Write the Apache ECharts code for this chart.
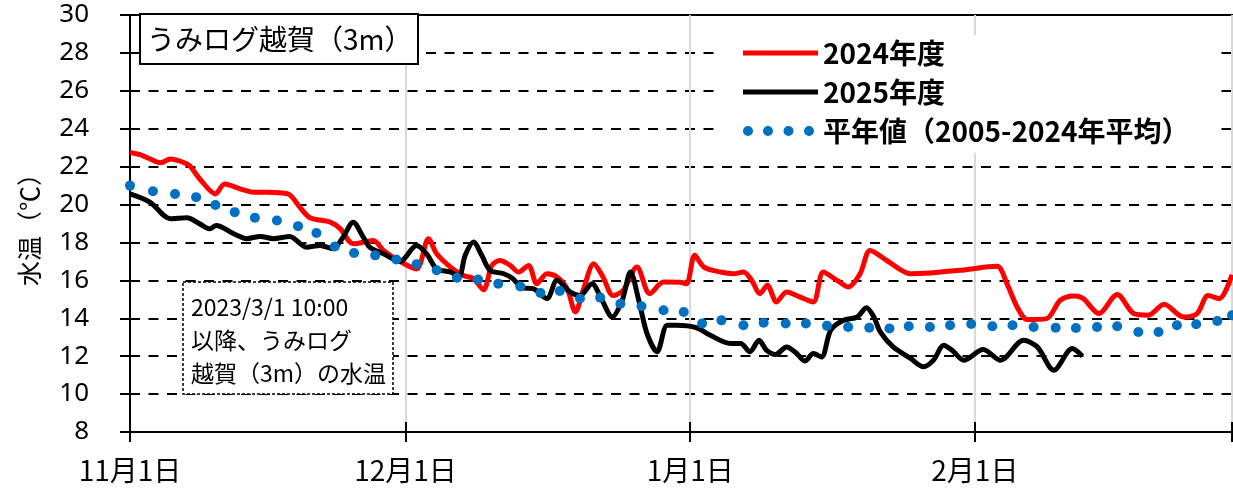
<!DOCTYPE html>
<html>
<head>
<meta charset="utf-8">
<title>うみログ越賀（3m）</title>
<script src="https://cdn.jsdelivr.net/npm/echarts@6/dist/echarts.min.js"></script>
<style>
    html, body {margin: 0; padding: 0; background: #fff;}
    #main {width: 1233px; height: 499px;}
</style>
</head>
<body>
<div id="main"></div>
<script>
// x = days since Nov 1 (Dec 1 = 30, Jan 1 = 61, Feb 1 = 92, Mar 1 = 120)
var monthTickDays = [0, 30, 61, 92, 120];
var monthLabels = ['11月1日', '12月1日', '1月1日', '2月1日'];

var days2024 = [0, 1.1, 2.2, 3.3, 4.4, 5.8, 6.5, 7.6, 9.3, 10.3, 12, 13.4, 14.9, 17.2, 18.5, 19.6, 21.8, 22.9, 24.3, 26.5,
    27.6, 29.4, 31.2, 32.5, 33.4, 34.9, 36.3, 37.4, 38.5, 39.4, 40.3, 41.4, 42.3, 43.4, 44.3, 45.4, 46.5, 47.6, 48.5, 49.4,
    50.5, 51.5, 52.6, 53.7, 55.2, 56.6, 58.1, 59.9, 60.6, 61.5, 62.5, 64.3, 65.7, 66.8, 67.7, 68.6, 69.4, 70.4, 71.5, 73,
    74.4, 75.5, 77, 78.2, 79.5, 80.6, 82.4, 85, 87.1, 90.4, 94.4, 95.5, 96.6, 97.7, 99.8, 101.3, 102.8, 103.8, 105.5, 107.5,
    109.3, 110.9, 112.6, 114.7, 116.2, 117.4, 118.6, 120];
var temps2024 = [22.75, 22.63, 22.4, 22.2, 22.4, 22.23, 22.05, 21.35, 20.56, 21.09, 20.83, 20.65, 20.65, 20.56, 19.86, 19.3, 19.07, 18.72, 17.93, 18.1,
    17.58, 17.0, 16.6, 18.2, 17.4, 16.7, 16.26, 16.09, 15.5, 16.79, 17.05, 16.79, 16.44, 16.79, 15.82, 16.35, 16.18, 15.56, 14.33, 15.56,
    16.88, 16.18, 15.2, 15.47, 16.7, 15.3, 15.91, 15.9, 15.82, 17.32, 16.7, 16.44, 16.35, 16.44, 16.0, 15.3, 15.74, 14.86, 15.39, 15.12,
    14.86, 16.44, 16.0, 15.65, 16.35, 17.58, 17.05, 16.35, 16.39, 16.53, 16.74, 15.82, 14.6, 13.93, 13.98, 14.95, 15.18, 15.04, 14.25, 15.26,
    14.25, 14.16, 14.74, 14.07, 14.25, 15.2, 15.04, 16.3];

var days2025 = [0, 2.2, 4.4, 6.2, 7.6, 8.7, 9.4, 11.3, 12.7, 14.2, 15.6, 17.4, 19.2, 20.7, 22.1, 23.2, 24.3, 25.4, 26.1, 27.6,
    29.4, 31.2, 32.3, 33.4, 34.9, 35.8, 36.5, 37.4, 38.3, 39.2, 40.7, 41.7, 42.7, 43.9, 45.4, 46.5, 47.9, 49, 50.3, 51.4,
    52.5, 53.6, 54.5, 55.4, 56.3, 57.4, 58.5, 59.5, 61.7, 63.2, 65.4, 66.5, 67.5, 68.5, 69.3, 70.3, 71.5, 72.6, 73.5, 74.4,
    75.3, 76.3, 77.7, 79.2, 80.2, 81, 81.7, 83.1, 85, 86.4, 87.5, 88.6, 89.5, 90.8, 92.9, 94.8, 97.3, 98.8, 100.6, 102.6, 103.7];
var temps2025 = [20.56, 20.12, 19.25, 19.3, 18.98, 18.72, 18.9, 18.46, 18.2, 18.32, 18.2, 18.32, 17.75, 17.84, 17.67, 18.28, 19.07, 18.28, 17.75, 17.4,
    17.0, 17.84, 17.4, 16.6, 16.44, 16.18, 17.32, 18.02, 17.32, 16.53, 16.35, 16.09, 15.6, 15.56, 15.04, 16.0, 15.39, 15.2, 15.82, 14.95,
    14.07, 14.95, 16.44, 14.95, 13.19, 12.23, 13.63, 13.63, 13.5, 13.1, 12.67, 12.67, 12.23, 12.84, 12.32, 12.09, 12.49, 12.14, 11.74, 12.14,
    11.96, 13.37, 13.89, 14.07, 14.56, 14.07, 13.28, 12.49, 11.88, 11.44, 11.79, 12.58, 12.32, 11.79, 12.35, 11.79, 12.84, 12.49, 11.26, 12.4, 12.0];

var daysNormal = [0, 2.5, 4.9, 7.2, 9.3, 11.4, 13.6, 16, 18.3, 20.3, 22.3, 24.4, 26.7, 29, 31.2, 33.4, 35.6, 37.9, 40.1, 42.5,
    44.7, 46.8, 49, 51.2, 53.4, 55.7, 58.1, 60.3, 62.3, 64.4, 66.8, 69, 71.4, 73.6, 75.9, 78.2, 80.5, 82.7, 84.8, 87.1,
    89.3, 91.6, 93.9, 96.1, 98.4, 100.8, 103, 105.3, 107.5, 109.8, 112, 114, 116.1, 118.4, 120];
var tempsNormal = [21.0, 20.7, 20.56, 20.39, 19.98, 19.6, 19.3, 19.16, 18.86, 18.5, 17.79, 17.44, 17.32, 17.1, 16.85, 16.53, 16.14, 16.04, 15.82, 15.68,
    15.33, 15.44, 15.04, 15.09, 14.77, 14.63, 14.42, 14.33, 13.72, 13.89, 13.63, 13.77, 13.72, 13.72, 13.6, 13.54, 13.5, 13.46, 13.58, 13.54,
    13.63, 13.7, 13.58, 13.63, 13.54, 13.5, 13.49, 13.54, 13.58, 13.28, 13.28, 13.63, 13.68, 13.86, 14.16];

var chart = echarts.init(document.getElementById('main'));
var jpFont = '"Noto Sans CJK JP", "Noto Sans", sans-serif';
var tickStyle = {color: '#000', width: 2};

// legend icons: a thick line, and four dots
var lineIcon = 'path://M0,0M75,10M0,2.5h75v5h-75z';
var dotsIcon = 'path://M0,0M75,10' +
    'M0,5a5,5 0 1,0 10,0a5,5 0 1,0 -10,0z' +
    'M20,5a5,5 0 1,0 10,0a5,5 0 1,0 -10,0z' +
    'M40.5,5a5,5 0 1,0 10,0a5,5 0 1,0 -10,0z' +
    'M61,5a5,5 0 1,0 10,0a5,5 0 1,0 -10,0z';

function pairs(days, temps) {
    return days.map(function (d, i) {
        return [d, temps[i]];
    });
}

function monthLabel(v) {
    var i = monthTickDays.indexOf(v);
    return i >= 0 && i < monthLabels.length ? monthLabels[i] : '';
}

var option = {
    animation: false,
    grid: {left: 130, right: 1, top: 15, bottom: 67, show: true, borderColor: '#000', borderWidth: 2},
    legend: {
        orient: 'vertical', left: 722, top: 35, itemWidth: 75, itemHeight: 10, itemGap: 9,
        padding: [3, 26, 7, 21], backgroundColor: '#fff',
        selectedMode: false,
        itemStyle: {borderWidth: 0},
        textStyle: {fontSize: 28, fontWeight: 'bold', color: '#000', fontFamily: jpFont, lineHeight: 30},
        data: [
            {name: '2024年度', icon: lineIcon},
            {name: '2025年度', icon: lineIcon},
            {name: '平年値（2005-2024年平均）', icon: dotsIcon}
        ]
    },
    xAxis: [{
        type: 'value', min: 0, max: 120, position: 'bottom',
        axisLine: {show: true, lineStyle: tickStyle},
        axisTick: {show: true, customValues: monthTickDays, length: 10, lineStyle: tickStyle},
        axisLabel: {
            customValues: monthTickDays.slice(0, 4), formatter: monthLabel,
            margin: 24, fontSize: 28, color: '#000', fontFamily: jpFont
        },
        splitLine: {show: true, lineStyle: {color: '#d9d9d9', width: 2}}
    }, {
        type: 'value', min: 0, max: 120, position: 'bottom',
        axisLine: {show: false},
        axisTick: {show: true, inside: true, customValues: monthTickDays, length: 10, lineStyle: tickStyle},
        axisLabel: {show: false},
        splitLine: {show: false}
    }],
    yAxis: [{
        type: 'value', min: 8, max: 30, interval: 2, position: 'left',
        name: '水温（℃）', nameLocation: 'middle', nameRotate: 90, nameGap: 88,
        nameTextStyle: {fontSize: 25, color: '#000', fontFamily: jpFont},
        axisLine: {show: true, lineStyle: tickStyle},
        axisTick: {show: true, length: 10, lineStyle: tickStyle},
        axisLabel: {margin: 41, fontSize: 26, color: '#000', fontFamily: '"Noto Sans", sans-serif'},
        splitLine: {show: true, lineStyle: {color: '#000', width: 2, type: [10, 8.5]}}
    }, {
        type: 'value', min: 8, max: 30, interval: 2, position: 'left',
        axisLine: {show: false},
        axisTick: {show: true, inside: true, length: 10, lineStyle: tickStyle},
        axisLabel: {show: false},
        splitLine: {show: false}
    }],
    series: [{
        name: '2024年度', type: 'line', data: pairs(days2024, temps2024),
        smooth: 0.3, symbol: 'none', z: 3,
        lineStyle: {color: '#ff0000', width: 5}, itemStyle: {color: '#ff0000'}
    }, {
        name: '2025年度', type: 'line', data: pairs(days2025, temps2025),
        smooth: 0.3, symbol: 'none', z: 3,
        lineStyle: {color: '#000000', width: 5}, itemStyle: {color: '#000000'}
    }, {
        name: '平年値（2005-2024年平均）', type: 'line', data: pairs(daysNormal, tempsNormal),
        symbol: 'circle', symbolSize: 10, showSymbol: true, showAllSymbol: true, z: 4,
        lineStyle: {width: 0, opacity: 0}, itemStyle: {color: '#0070c0'}
    }],
    graphic: [
        {type: 'rect', z: 100, shape: {x: 140, y: 14, width: 278, height: 50},
            style: {fill: '#fff', stroke: '#000', lineWidth: 2}},
        {type: 'text', z: 101, x: 147, y: 39,
            style: {text: 'うみログ越賀（3m）', fontSize: 28, fontFamily: jpFont, fill: '#000', verticalAlign: 'middle'}},
        {type: 'rect', z: 100, shape: {x: 183, y: 282, width: 210, height: 112},
            style: {fill: '#fff', stroke: '#000', lineWidth: 1.5, lineDash: [3, 2]}},
        {type: 'text', z: 101, x: 191, y: 291,
            style: {text: '2023/3/1 10:00\n以降、うみログ\n越賀（3m）の水温', fontSize: 23, lineHeight: 33,
                fontFamily: jpFont, fill: '#000', verticalAlign: 'top'}}
    ]
};

chart.setOption(option);
</script>
</body>
</html>
